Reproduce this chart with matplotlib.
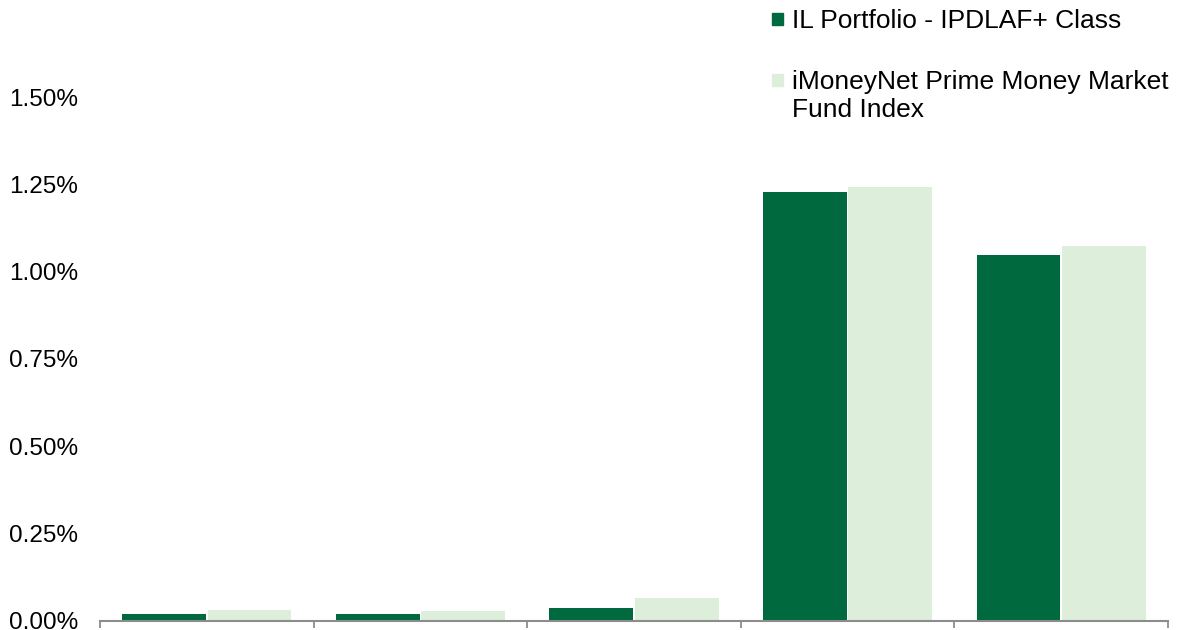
import matplotlib.pyplot as plt
import numpy as np
from matplotlib.ticker import FuncFormatter
from matplotlib.patches import Rectangle

plt.rcParams['font.family'] = ['Liberation Sans', 'DejaVu Sans']

# data (values in %)
categories = ['1 Month', '3 Months', '1 Year', '3 Years', '5 Years']
series_names = ['IL Portfolio - IPDLAF+ Class',
                'iMoneyNet Prime Money Market\nFund Index']
portfolio = [0.019, 0.019, 0.035, 1.229, 1.049]
index_vals = [0.029, 0.028, 0.064, 1.243, 1.075]
yticks = [0.0, 0.25, 0.5, 0.75, 1.0, 1.25, 1.5]

colors = ['#00693E', '#DDEEDB']

W, H = 1187, 630
fig = plt.figure(figsize=(W / 100, H / 100), dpi=100)
ax = fig.add_axes([100 / W, 9.5 / H, 1068 / W, 620.5 / H])

x = np.arange(len(categories))
w = 0.393
ax.bar(x - 0.2, portfolio, width=w, color=colors[0])
ax.bar(x + 0.2, index_vals, width=w, color=colors[1])

ax.set_xlim(-0.5, len(categories) - 0.5)
ax.set_ylim(0, 1.7795)

# y axis: labels only
ax.set_yticks(yticks)
ax.yaxis.set_major_formatter(FuncFormatter(lambda v, p: '%.2f%%' % v))
ax.tick_params(axis='y', length=0, pad=16, labelsize=17.5, labelcolor='black')

# x axis: tick marks between categories, no labels
ax.set_xticks(np.arange(len(categories) + 1) - 0.5)
ax.set_xticklabels([])
ax.tick_params(axis='x', length=5, width=1.3, color='#8c8c8c', direction='out')

for s in ['left', 'right', 'top']:
    ax.spines[s].set_visible(False)
ax.spines['bottom'].set_color('#8c8c8c')
ax.spines['bottom'].set_linewidth(1.5)

# legend drawn by hand so the square sits on the first text line
legend_y = [19, 80]  # pixel rows of first text line, from top
for name, col, yy in zip(series_names, colors, legend_y):
    fig.patches.append(Rectangle((772 / W, 1 - (yy + 5.5) / H), 11 / W, 11 / H,
                                 transform=fig.transFigure, color=col))
    fig.text(792 / W, 1 - (yy - 10) / H, name, fontsize=19, va='top', ha='left',
             linespacing=1.2)

fig.savefig('out.png', dpi=100)
